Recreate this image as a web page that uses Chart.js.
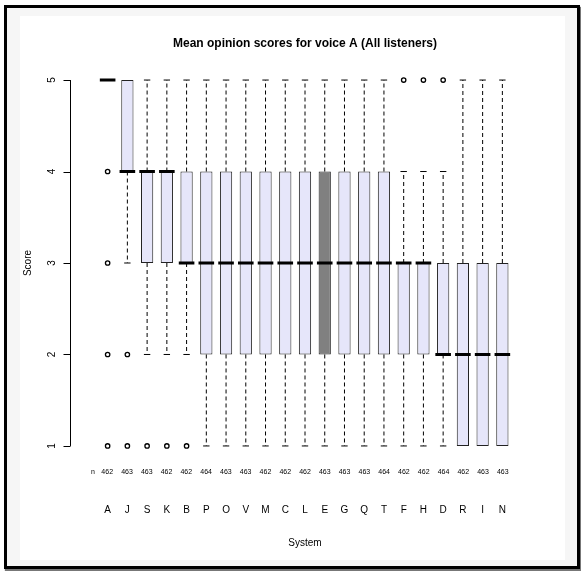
<!DOCTYPE html>
<html>
<head>
<meta charset="utf-8">
<script src="https://cdn.jsdelivr.net/npm/chart.js@4/dist/chart.umd.min.js"></script>
<style>
  body { margin: 0; background: #fff; }
  #marco { position: absolute; left: 4px; top: 5px; width: 570px; height: 558px; border: 3px solid #000; background: #f6f6f6; box-shadow: 1px 2px 1px #777; }
  #lienzo { position: absolute; left: 20px; top: 16px; width: 545px; height: 544px; background: #fff; }
</style>
</head>
<body>
<div id="marco"></div>
<div id="lienzo"><canvas id="grafico" width="545" height="544"></canvas></div>
<script>
// Datos del gráfico
const sistemas = ['A', 'J', 'S', 'K', 'B', 'P', 'O', 'V', 'M', 'C', 'L', 'E', 'G', 'Q', 'T', 'F', 'H', 'D', 'R', 'I', 'N'];
const nCuentas = [462, 463, 463, 462, 462, 464, 463, 463, 462, 462, 462, 463, 463, 463, 464, 462, 462, 464, 462, 463, 463];
const q1 =       [5, 4, 3, 3, 3, 2, 2, 2, 2, 2, 2, 2, 2, 2, 2, 2, 2, 2, 1, 1, 1];
const mediana =  [5, 4, 4, 4, 3, 3, 3, 3, 3, 3, 3, 3, 3, 3, 3, 3, 3, 2, 2, 2, 2];
const q3 =       [5, 5, 4, 4, 4, 4, 4, 4, 4, 4, 4, 4, 4, 4, 4, 3, 3, 3, 3, 3, 3];
const bigoteInf = [5, 3, 2, 2, 2, 1, 1, 1, 1, 1, 1, 1, 1, 1, 1, 1, 1, 1, 1, 1, 1];
const bigoteSup = [5, 5, 5, 5, 5, 5, 5, 5, 5, 5, 5, 5, 5, 5, 5, 4, 4, 4, 5, 5, 5];
const atipicos = [[4, 3, 2, 1], [2, 1], [1], [1], [1], [], [], [], [], [], [], [], [], [], [], [5], [5], [5], [], [], []];
const ticksY = [1, 2, 3, 4, 5];

const fuente = '"Liberation Sans", Arial, sans-serif';

// Construcción de los datasets a partir de los arrays
const cajas = sistemas.map((s, i) => ({ x: i + 1, y: [q1[i], q3[i]] }));
const coloresCaja = sistemas.map(s => s === 'E' ? '#808080' : '#e6e6fa');

const bigotes = [];
const topes = [];
sistemas.forEach((s, i) => {
    if (bigoteSup[i] > q3[i]) {
        bigotes.push({ x: i + 1, y: q3[i] }, { x: i + 1, y: bigoteSup[i] }, { x: i + 1, y: null });
        topes.push({ x: i + 1, y: bigoteSup[i] });
    }
    if (bigoteInf[i] < q1[i]) {
        bigotes.push({ x: i + 1, y: q1[i] }, { x: i + 1, y: bigoteInf[i] }, { x: i + 1, y: null });
        topes.push({ x: i + 1, y: bigoteInf[i] });
    }
});
const medianas = sistemas.map((s, i) => ({ x: i + 1, y: mediana[i] }));
const puntos = [];
atipicos.forEach((lista, i) => lista.forEach(v => puntos.push({ x: i + 1, y: v })));

// Eje Y al estilo R: línea solo entre 1 y 5, etiquetas giradas
const ejeY = {
    id: 'ejeY',
    afterDraw(chart) {
        const ctx = chart.ctx;
        const y = chart.scales.y;
        const x0 = chart.chartArea.left + 0.5;
        ctx.save();
        ctx.strokeStyle = '#000';
        ctx.lineWidth = 1;
        ctx.beginPath();
        ctx.moveTo(x0, y.getPixelForValue(ticksY[0]));
        ctx.lineTo(x0, y.getPixelForValue(ticksY[ticksY.length - 1]));
        ticksY.forEach(v => {
            const py = Math.round(y.getPixelForValue(v)) + 0.5;
            ctx.moveTo(x0, py);
            ctx.lineTo(x0 - 7, py);
        });
        ctx.stroke();
        ctx.font = '10px ' + fuente;
        ctx.fillStyle = '#000';
        ctx.textAlign = 'center';
        ctx.textBaseline = 'middle';
        ticksY.forEach(v => {
            ctx.save();
            ctx.translate(x0 - 18, y.getPixelForValue(v));
            ctx.rotate(-Math.PI / 2);
            ctx.fillText(String(v), 0, 0);
            ctx.restore();
        });
        ctx.restore();
    }
};

new Chart(document.getElementById('grafico').getContext('2d'), {
    type: 'bar',
    data: {
        datasets: [
            {
                type: 'scatter',
                xAxisID: 'x',
                data: puntos,
                pointStyle: 'circle',
                pointRadius: 2.2,
                borderWidth: 1.3,
                borderColor: '#000',
                backgroundColor: 'rgba(0,0,0,0)',
                order: 0
            },
            {
                type: 'scatter',
                xAxisID: 'x',
                data: medianas,
                pointStyle: 'line',
                pointRadius: 7.8,
                borderWidth: 3,
                borderColor: '#000',
                order: 1
            },
            {
                type: 'scatter',
                xAxisID: 'x',
                data: topes,
                pointStyle: 'line',
                pointRadius: 3.2,
                borderWidth: 1,
                borderColor: '#000',
                order: 2
            },
            {
                type: 'line',
                xAxisID: 'x',
                data: bigotes,
                borderColor: '#000',
                borderWidth: 1,
                borderDash: [4, 3],
                pointRadius: 0,
                spanGaps: false,
                fill: false,
                order: 3
            },
            {
                type: 'bar',
                xAxisID: 'x',
                data: cajas,
                backgroundColor: coloresCaja,
                borderColor: '#222',
                borderWidth: 1,
                borderSkipped: false,
                barPercentage: 0.62,
                categoryPercentage: 1,
                order: 4
            }
        ]
    },
    options: {
        responsive: false,
        animation: false,
        events: [],
        layout: { padding: { left: 0, top: 0, right: 25, bottom: 0 } },
        plugins: {
            legend: { display: false },
            tooltip: { enabled: false },
            title: {
                display: true,
                text: 'Mean opinion scores for voice A (All listeners)',
                fullSize: false,
                color: '#000',
                font: { family: fuente, size: 12, weight: 'bold' },
                padding: { top: 20.8, bottom: 14.2 }
            }
        },
        scales: {
            y: {
                type: 'linear',
                min: 0.84,
                max: 5.16,
                ticks: { display: false },
                grid: { display: false },
                border: { display: false },
                title: { display: true, text: 'Score', color: '#000', font: { family: fuente, size: 10 }, padding: { top: 2, bottom: 0 } },
                afterFit: s => { s.width = 50; }
            },
            xn: {
                type: 'linear',
                position: 'bottom',
                weight: 1,
                min: -0.34,
                max: 22.34,
                afterBuildTicks: s => { s.ticks = [{ value: 0.28 }].concat(sistemas.map((_, i) => ({ value: i + 1 }))); },
                ticks: {
                    callback: v => v < 1 ? 'n' : String(nCuentas[v - 1]),
                    autoSkip: false,
                    maxRotation: 0,
                    color: '#000',
                    padding: 7.2,
                    font: { family: fuente, size: 7 }
                },
                grid: { display: false, drawTicks: false },
                border: { display: false },
                afterFit: s => { s.height = 30; }
            },
            x: {
                type: 'linear',
                position: 'bottom',
                weight: 2,
                min: -0.34,
                max: 22.34,
                afterBuildTicks: s => { s.ticks = sistemas.map((_, i) => ({ value: i + 1 })); },
                ticks: {
                    callback: v => sistemas[v - 1],
                    autoSkip: false,
                    maxRotation: 0,
                    color: '#000',
                    padding: 13.4,
                    font: { family: fuente, size: 10 }
                },
                grid: { display: false, drawTicks: false },
                border: { display: false },
                title: { display: true, text: 'System', color: '#000', font: { family: fuente, size: 10 }, padding: { top: 0, bottom: 11 } },
                afterFit: s => { s.height = 69.4; }
            }
        }
    },
    plugins: [ejeY]
});
</script>
</body>
</html>
